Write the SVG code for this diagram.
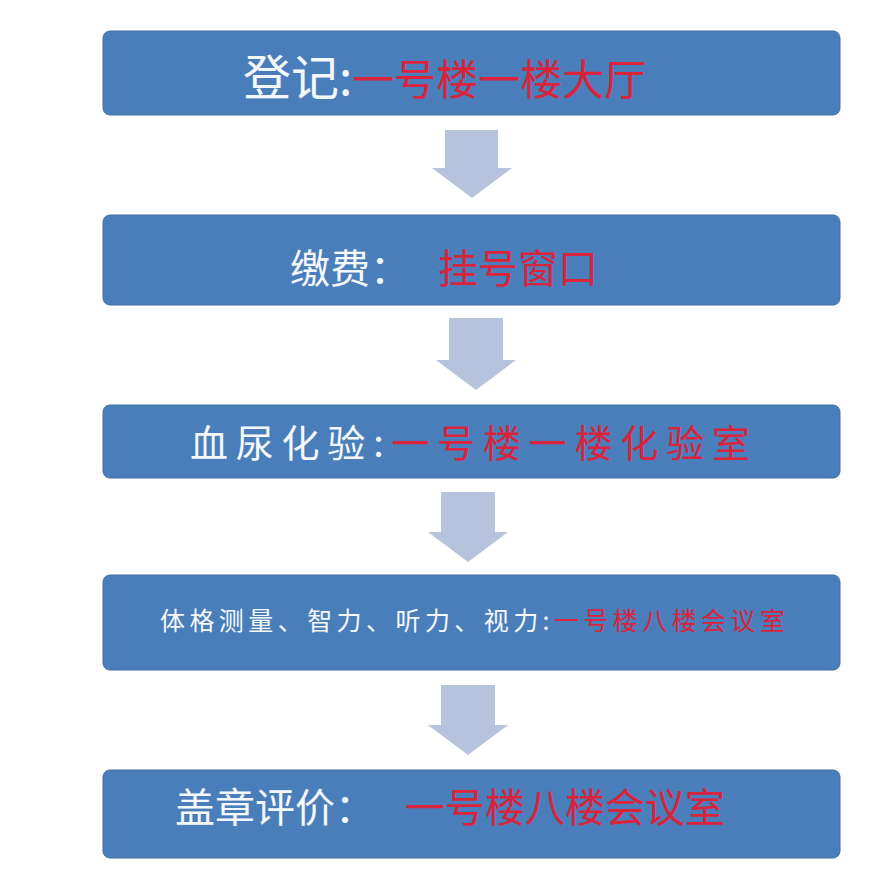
<svg xmlns="http://www.w3.org/2000/svg" width="895" height="893" viewBox="0 0 895 893">
<style>
.box{fill:#4a7ebb;stroke:#41719c;stroke-width:1}
.arr{fill:#b7c3dc}
text{font-family:"Noto Sans CJK SC","Liberation Sans",sans-serif}
.w{fill:#f4f8fb}
.r{fill:#d9243c}
</style>
<rect width="895" height="893" fill="#ffffff"/>
<g id="connectors">
<path class="arr" d="M445,130 H498 V168 H512 L472,198 L432,168 H445 Z"/>
<path class="arr" d="M449,318 H503 V360 H516 L476,390 L436,360 H449 Z"/>
<path class="arr" d="M441,492 H495 V532 H508 L468,562 L428,532 H441 Z"/>
<path class="arr" d="M441,685 H495 V725 H508 L468,755 L428,725 H441 Z"/>
</g>
<g id="n1"><rect class="box" x="103" y="31" width="737" height="84" rx="7"/>
<text x="243" y="95" font-size="48"><tspan class="w">登记:</tspan><tspan class="r" font-size="42">一号楼一楼大厅</tspan></text></g>
<g id="n2"><rect class="box" x="103" y="215" width="737" height="90" rx="7"/>
<text x="290" y="283" font-size="40"><tspan class="w">缴费：</tspan><tspan class="r" dx="28">挂号窗口</tspan></text></g>
<g id="n3"><rect class="box" x="103" y="405" width="737" height="73" rx="7"/>
<text x="190" y="457" font-size="38" textLength="560"><tspan class="w">血尿化验:</tspan><tspan class="r">一号楼一楼化验室</tspan></text></g>
<g id="n4"><rect class="box" x="103" y="575" width="737" height="95" rx="7"/>
<text x="160" y="630" font-size="25" textLength="625"><tspan class="w">体格测量、智力、听力、视力:</tspan><tspan class="r">一号楼八楼会议室</tspan></text></g>
<g id="n5"><rect class="box" x="103" y="770" width="737" height="88" rx="7"/>
<text x="175" y="822" font-size="40"><tspan class="w">盖章评价：</tspan><tspan class="r" dx="30">一号楼八楼会议室</tspan></text></g>
</svg>
